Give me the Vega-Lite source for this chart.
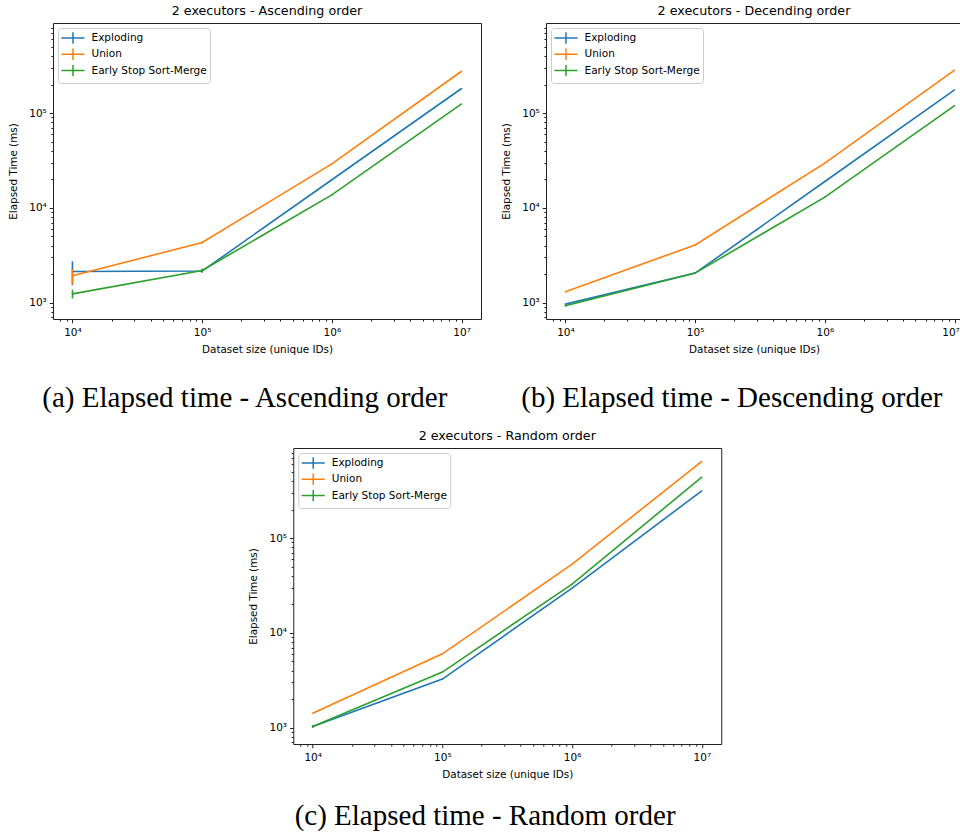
{
  "$schema": "https://vega.github.io/schema/vega-lite/v6.json",
  "background": "white",
  "padding": {"left": 8, "top": 4, "right": 0, "bottom": 0},
  "config": {
    "view": {"stroke": "#222", "strokeWidth": 1},
    "title": {"font": "DejaVu Sans", "fontSize": 12.7, "fontWeight": "normal", "color": "#000", "offset": 5},
    "axis": {
      "labelFont": "DejaVu Sans", "labelFontSize": 10.5, "labelColor": "#000",
      "titleFont": "DejaVu Sans", "titleFontSize": 10.4, "titleFontWeight": "normal", "titleColor": "#000",
      "tickColor": "#222", "tickWidth": 1, "domain": false, "grid": false,
      "labelOverlap": false, "labelFlush": false, "labelBound": false, "labelPadding": 3
    },
    "axisX": {"labelPadding": 5, "titlePadding": 6},
    "legend": {
      "orient": "top-left", "offset": 5, "padding": 3, "fillColor": "rgba(255,255,255,0.8)", "strokeColor": "#ccc",
      "cornerRadius": 3, "labelFont": "DejaVu Sans", "labelFontSize": 10.5, "labelColor": "#000",
      "symbolType": "M-1.1,0H2.75M0.83,-0.95V0.95", "symbolSize": 144, "symbolStrokeWidth": 1.5, "labelOffset": 16.5, "rowPadding": -1.7, "labelLimit": 300
    }
  },
  "datasets": {
    "d": [
      {"panel": "a", "method": "Exploding", "size": 10000, "time": 2125, "lo": 1525, "hi": 2725},
      {"panel": "a", "method": "Exploding", "size": 100000, "time": 2150, "lo": 2070, "hi": 2230},
      {"panel": "a", "method": "Exploding", "size": 1000000, "time": 19800, "lo": 19500, "hi": 20100},
      {"panel": "a", "method": "Exploding", "size": 10000000, "time": 182000, "lo": 180000, "hi": 184000},
      {"panel": "a", "method": "Union", "size": 10000, "time": 1915, "lo": 1565, "hi": 2265},
      {"panel": "a", "method": "Union", "size": 100000, "time": 4300, "lo": 4180, "hi": 4420},
      {"panel": "a", "method": "Union", "size": 1000000, "time": 29100, "lo": 28800, "hi": 29400},
      {"panel": "a", "method": "Union", "size": 10000000, "time": 277000, "lo": 274000, "hi": 280000},
      {"panel": "a", "method": "Early Stop Sort-Merge", "size": 10000, "time": 1235, "lo": 1105, "hi": 1365},
      {"panel": "a", "method": "Early Stop Sort-Merge", "size": 100000, "time": 2180, "lo": 2070, "hi": 2290},
      {"panel": "a", "method": "Early Stop Sort-Merge", "size": 1000000, "time": 13700, "lo": 13500, "hi": 13900},
      {"panel": "a", "method": "Early Stop Sort-Merge", "size": 10000000, "time": 125000, "lo": 124000, "hi": 126000},
      {"panel": "b", "method": "Exploding", "size": 10000, "time": 962, "lo": 945, "hi": 979},
      {"panel": "b", "method": "Exploding", "size": 100000, "time": 2045, "lo": 2020, "hi": 2070},
      {"panel": "b", "method": "Exploding", "size": 1000000, "time": 18970, "lo": 18800, "hi": 19140},
      {"panel": "b", "method": "Exploding", "size": 10000000, "time": 176000, "lo": 174500, "hi": 177500},
      {"panel": "b", "method": "Union", "size": 10000, "time": 1297, "lo": 1280, "hi": 1314},
      {"panel": "b", "method": "Union", "size": 100000, "time": 4060, "lo": 4000, "hi": 4120},
      {"panel": "b", "method": "Union", "size": 1000000, "time": 29600, "lo": 29300, "hi": 29900},
      {"panel": "b", "method": "Union", "size": 10000000, "time": 285000, "lo": 282000, "hi": 288000},
      {"panel": "b", "method": "Early Stop Sort-Merge", "size": 10000, "time": 923, "lo": 905, "hi": 941},
      {"panel": "b", "method": "Early Stop Sort-Merge", "size": 100000, "time": 2045, "lo": 2010, "hi": 2080},
      {"panel": "b", "method": "Early Stop Sort-Merge", "size": 1000000, "time": 12970, "lo": 12800, "hi": 13140},
      {"panel": "b", "method": "Early Stop Sort-Merge", "size": 10000000, "time": 120000, "lo": 119000, "hi": 121000},
      {"panel": "c", "method": "Exploding", "size": 10000, "time": 1025, "lo": 995, "hi": 1055},
      {"panel": "c", "method": "Exploding", "size": 100000, "time": 3245, "lo": 3210, "hi": 3280},
      {"panel": "c", "method": "Exploding", "size": 1000000, "time": 29700, "lo": 29400, "hi": 30000},
      {"panel": "c", "method": "Exploding", "size": 10000000, "time": 316000, "lo": 313000, "hi": 319000},
      {"panel": "c", "method": "Union", "size": 10000, "time": 1417, "lo": 1400, "hi": 1434},
      {"panel": "c", "method": "Union", "size": 100000, "time": 6000, "lo": 5940, "hi": 6060},
      {"panel": "c", "method": "Union", "size": 1000000, "time": 53100, "lo": 52600, "hi": 53600},
      {"panel": "c", "method": "Union", "size": 10000000, "time": 646000, "lo": 640000, "hi": 652000},
      {"panel": "c", "method": "Early Stop Sort-Merge", "size": 10000, "time": 1025, "lo": 1000, "hi": 1050},
      {"panel": "c", "method": "Early Stop Sort-Merge", "size": 100000, "time": 3850, "lo": 3810, "hi": 3890},
      {"panel": "c", "method": "Early Stop Sort-Merge", "size": 1000000, "time": 32700, "lo": 32400, "hi": 33000},
      {"panel": "c", "method": "Early Stop Sort-Merge", "size": 10000000, "time": 441000, "lo": 437000, "hi": 445000}
    ]
  },
  "spacing": 15,
  "center": true,
  "resolve": {"scale": {"color": "independent"}, "legend": {"color": "independent"}},
  "vconcat": [
    {
      "hconcat": [
        {
          "title": {"text": "(a) Elapsed time - Ascending order", "orient": "bottom", "anchor": "middle", "frame": "bounds", "font": "Liberation Serif", "fontSize": 29, "fontWeight": "normal", "color": "#000", "offset": 29},
          "vconcat": [
            {
              "title": "2 executors - Ascending order",
              "width": 428, "height": 296,
              "data": {"name": "d"},
              "transform": [{"filter": "datum.panel == 'a'"}],
              "encoding": {
                "x": {"field": "size", "type": "quantitative",
                  "scale": {"type": "log", "domain": [7079, 14125375], "nice": false},
                  "axis": {"title": "Dataset size (unique IDs)",
                    "values": [8000, 9000, 10000, 20000, 30000, 40000, 50000, 60000, 70000, 80000, 90000, 100000, 200000, 300000, 400000, 500000, 600000, 700000, 800000, 900000, 1000000, 2000000, 3000000, 4000000, 5000000, 6000000, 7000000, 8000000, 9000000, 10000000],
                    "labelExpr": "datum.value == 10000 ? '10⁴' : datum.value == 100000 ? '10⁵' : datum.value == 1000000 ? '10⁶' : datum.value == 10000000 ? '10⁷' : ''",
                    "tickSize": {"condition": {"test": "datum.value == 10000 || datum.value == 100000 || datum.value == 1000000 || datum.value == 10000000", "value": 3.7}, "value": 2.1}}},
                "color": {"field": "method", "type": "nominal",
                  "scale": {"domain": ["Exploding", "Union", "Early Stop Sort-Merge"], "range": ["#1f77b4", "#ff7f0e", "#2ca02c"]},
                  "legend": {"title": null}}
              },
              "layer": [
                {"mark": {"type": "line", "strokeWidth": 1.6},
                  "encoding": {"y": {"field": "time", "type": "quantitative",
                    "scale": {"type": "log", "domain": [670, 895000], "nice": false},
                    "axis": {"title": "Elapsed Time (ms)", "titlePadding": 10,
                      "values": [700, 800, 900, 1000, 2000, 3000, 4000, 5000, 6000, 7000, 8000, 9000, 10000, 20000, 30000, 40000, 50000, 60000, 70000, 80000, 90000, 100000, 200000, 300000, 400000, 500000, 600000, 700000, 800000],
                      "labelExpr": "datum.value == 1000 ? '10³' : datum.value == 10000 ? '10⁴' : datum.value == 100000 ? '10⁵' : ''",
                      "tickSize": {"condition": {"test": "datum.value == 1000 || datum.value == 10000 || datum.value == 100000", "value": 3.7}, "value": 2.1}}}}},
                {"mark": {"type": "rule", "strokeWidth": 1.6},
                  "encoding": {"y": {"field": "lo", "type": "quantitative"}, "y2": {"field": "hi"}}}
              ]
            }
          ]
        },
        {
          "title": {"text": "(b) Elapsed time - Descending order", "orient": "bottom", "anchor": "middle", "frame": "bounds", "font": "Liberation Serif", "fontSize": 29, "fontWeight": "normal", "color": "#000", "offset": 29},
          "vconcat": [
            {
              "title": "2 executors - Decending order",
              "width": 416, "height": 296,
              "view": {"stroke": null},
              "data": {"name": "d"},
              "transform": [{"filter": "datum.panel == 'b'"}],
              "encoding": {
                "color": {"field": "method", "type": "nominal",
                  "scale": {"domain": ["Exploding", "Union", "Early Stop Sort-Merge"], "range": ["#1f77b4", "#ff7f0e", "#2ca02c"]},
                  "legend": {"title": null}}
              },
              "resolve": {"axis": {"x": "independent"}},
              "layer": [
                {"mark": {"type": "line", "strokeWidth": 1.6},
                  "encoding": {
                    "x": {"field": "size", "type": "quantitative",
                      "scale": {"type": "log", "domain": [7079, 11416000], "nice": false},
                      "axis": {"title": "Dataset size (unique IDs)", "domain": true, "domainColor": "#222",
                        "values": [8000, 9000, 10000, 20000, 30000, 40000, 50000, 60000, 70000, 80000, 90000, 100000, 200000, 300000, 400000, 500000, 600000, 700000, 800000, 900000, 1000000, 2000000, 3000000, 4000000, 5000000, 6000000, 7000000, 8000000, 9000000, 10000000],
                        "labelExpr": "datum.value == 10000 ? '10⁴' : datum.value == 100000 ? '10⁵' : datum.value == 1000000 ? '10⁶' : datum.value == 10000000 ? '10⁷' : ''",
                        "labelOffset": {"condition": {"test": "datum.value == 10000000", "value": -4}, "value": 0},
                        "tickSize": {"condition": {"test": "datum.value == 10000 || datum.value == 100000 || datum.value == 1000000 || datum.value == 10000000", "value": 3.7}, "value": 2.1}}},
                    "y": {"field": "time", "type": "quantitative",
                      "scale": {"type": "log", "domain": [670, 895000], "nice": false},
                      "axis": {"title": "Elapsed Time (ms)", "titlePadding": 10, "domain": true, "domainColor": "#222",
                        "values": [700, 800, 900, 1000, 2000, 3000, 4000, 5000, 6000, 7000, 8000, 9000, 10000, 20000, 30000, 40000, 50000, 60000, 70000, 80000, 90000, 100000, 200000, 300000, 400000, 500000, 600000, 700000, 800000],
                        "labelExpr": "datum.value == 1000 ? '10³' : datum.value == 10000 ? '10⁴' : datum.value == 100000 ? '10⁵' : ''",
                        "tickSize": {"condition": {"test": "datum.value == 1000 || datum.value == 10000 || datum.value == 100000", "value": 3.7}, "value": 2.1}}}}},
                {"mark": {"type": "rule", "strokeWidth": 1.6},
                  "encoding": {
                    "x": {"field": "size", "type": "quantitative",
                      "axis": {"orient": "top", "title": null, "labels": false, "ticks": false, "domain": true, "domainColor": "#222"}},
                    "y": {"field": "lo", "type": "quantitative"}, "y2": {"field": "hi"}}}
              ]
            }
          ]
        }
      ],
      "spacing": 19,
      "align": "each",
      "resolve": {"scale": {"color": "independent"}, "legend": {"color": "independent"}}
    },
    {
      "title": {"text": "(c) Elapsed time - Random order", "orient": "bottom", "anchor": "middle", "frame": "bounds", "font": "Liberation Serif", "fontSize": 29, "fontWeight": "normal", "color": "#000", "offset": 22},
      "vconcat": [
        {
          "title": "2 executors - Random order",
          "width": 428, "height": 296,
          "data": {"name": "d"},
          "transform": [{"filter": "datum.panel == 'c'"}],
          "encoding": {
            "x": {"field": "size", "type": "quantitative",
              "scale": {"type": "log", "domain": [7079, 14125375], "nice": false},
              "axis": {"title": "Dataset size (unique IDs)",
                "values": [8000, 9000, 10000, 20000, 30000, 40000, 50000, 60000, 70000, 80000, 90000, 100000, 200000, 300000, 400000, 500000, 600000, 700000, 800000, 900000, 1000000, 2000000, 3000000, 4000000, 5000000, 6000000, 7000000, 8000000, 9000000, 10000000],
                "labelExpr": "datum.value == 10000 ? '10⁴' : datum.value == 100000 ? '10⁵' : datum.value == 1000000 ? '10⁶' : datum.value == 10000000 ? '10⁷' : ''",
                "tickSize": {"condition": {"test": "datum.value == 10000 || datum.value == 100000 || datum.value == 1000000 || datum.value == 10000000", "value": 3.7}, "value": 2.1}}},
            "color": {"field": "method", "type": "nominal",
              "scale": {"domain": ["Exploding", "Union", "Early Stop Sort-Merge"], "range": ["#1f77b4", "#ff7f0e", "#2ca02c"]},
              "legend": {"title": null}}
          },
          "layer": [
            {"mark": {"type": "line", "strokeWidth": 1.6},
              "encoding": {"y": {"field": "time", "type": "quantitative",
                "scale": {"type": "log", "domain": [670, 895000], "nice": false},
                "axis": {"title": "Elapsed Time (ms)", "titlePadding": 10,
                  "values": [700, 800, 900, 1000, 2000, 3000, 4000, 5000, 6000, 7000, 8000, 9000, 10000, 20000, 30000, 40000, 50000, 60000, 70000, 80000, 90000, 100000, 200000, 300000, 400000, 500000, 600000, 700000, 800000],
                  "labelExpr": "datum.value == 1000 ? '10³' : datum.value == 10000 ? '10⁴' : datum.value == 100000 ? '10⁵' : ''",
                  "tickSize": {"condition": {"test": "datum.value == 1000 || datum.value == 10000 || datum.value == 100000", "value": 3.7}, "value": 2.1}}}}},
            {"mark": {"type": "rule", "strokeWidth": 1.6},
              "encoding": {"y": {"field": "lo", "type": "quantitative"}, "y2": {"field": "hi"}}}
          ]
        }
      ]
    }
  ]
}
